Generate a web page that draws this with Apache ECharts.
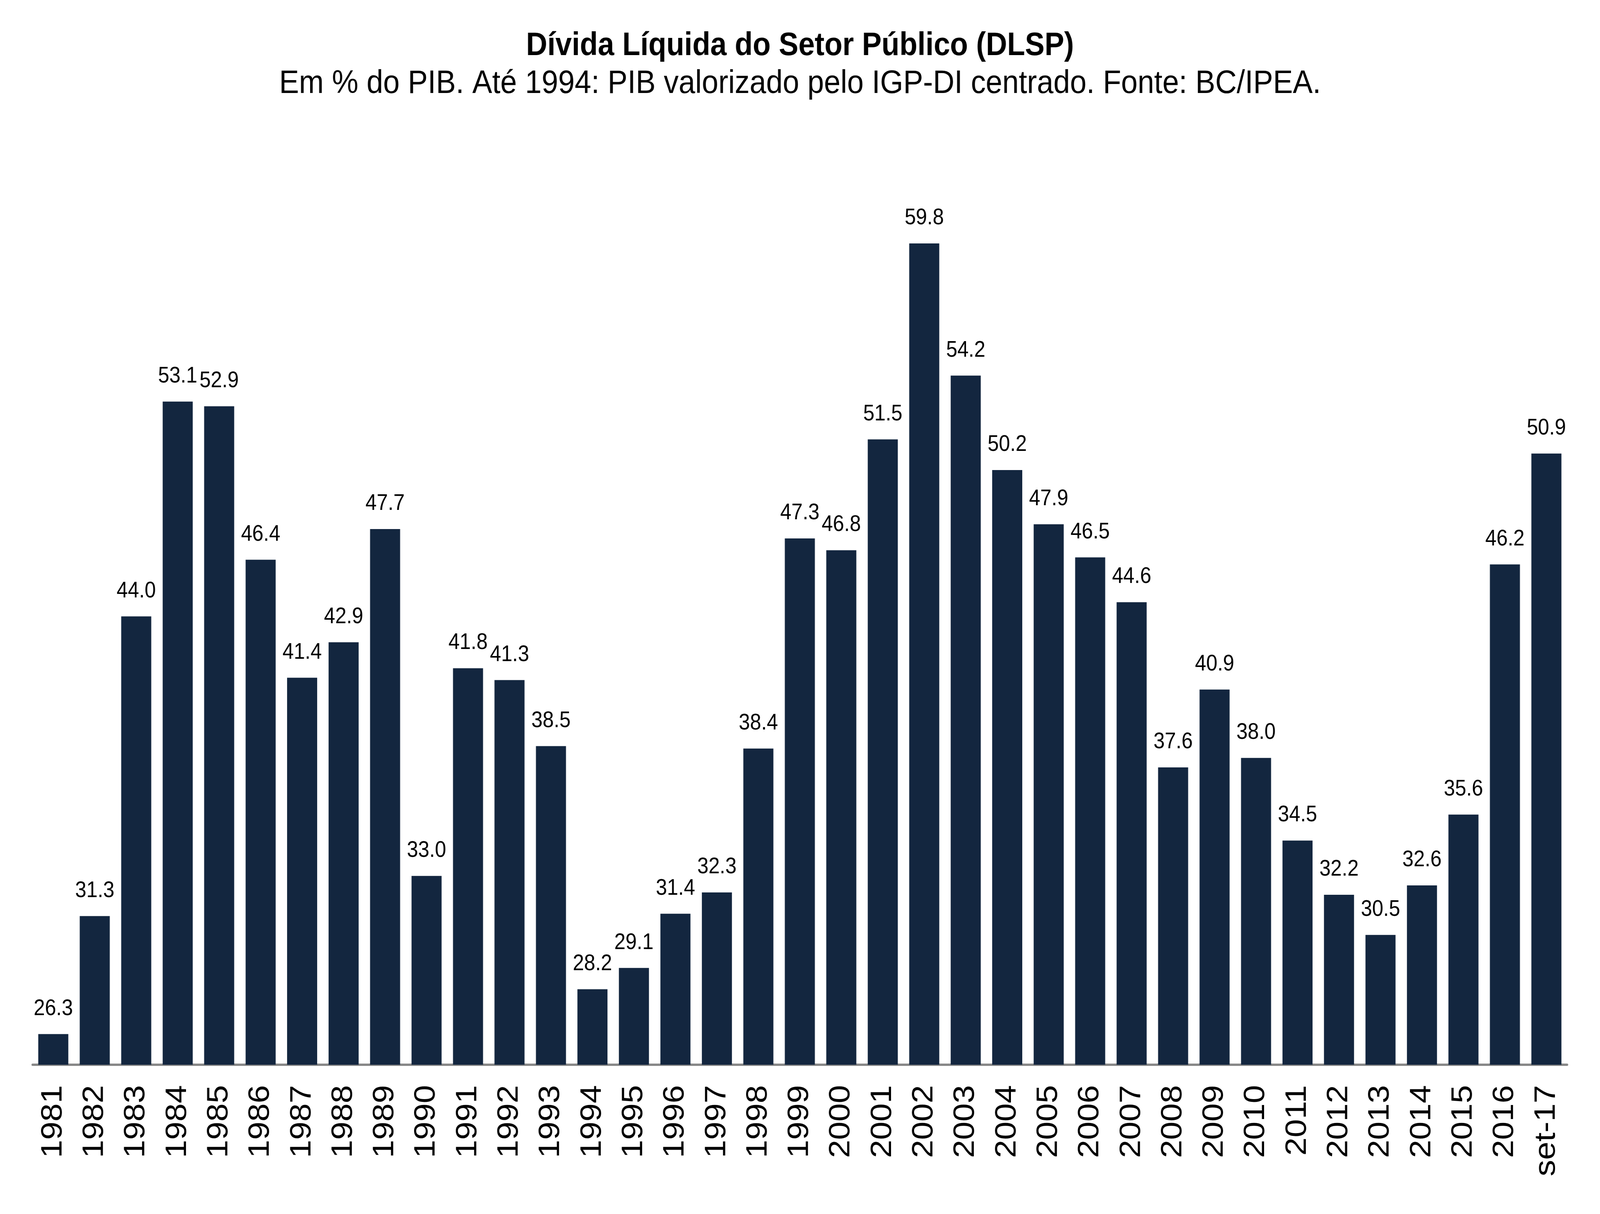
<!DOCTYPE html>
<html>
<head>
<meta charset="UTF-8">
<title>Dívida Líquida do Setor Público (DLSP)</title>
<script src="https://cdn.jsdelivr.net/npm/echarts@6/dist/echarts.min.js"></script>
<style>
  html, body { margin: 0; padding: 0; background: #fff; width: 100%; height: 100%; overflow: hidden; }
  #main { width: 4525px; height: 3107px; transform-origin: 0 0; }
</style>
</head>
<body>
<div id="main"></div>
<script>
// anos (o último é set-17)
var anos = ['1981', '1982', '1983', '1984', '1985', '1986', '1987', '1988', '1989', '1990',
  '1991', '1992', '1993', '1994', '1995', '1996', '1997', '1998', '1999', '2000',
  '2001', '2002', '2003', '2004', '2005', '2006', '2007', '2008', '2009', '2010',
  '2011', '2012', '2013', '2014', '2015', '2016', 'set-17'];

// DLSP em % do PIB
var dlsp = [26.3, 31.3, 44.0, 53.1, 52.9, 46.4, 41.4, 42.9, 47.7, 33.0,
  41.8, 41.3, 38.5, 28.2, 29.1, 31.4, 32.3, 38.4, 47.3, 46.8,
  51.5, 59.8, 54.2, 50.2, 47.9, 46.5, 44.6, 37.6, 40.9, 38.0,
  34.5, 32.2, 30.5, 32.6, 35.6, 46.2, 50.9];

var fonte = '"Liberation Sans", Arial, sans-serif';

// o gráfico é desenhado a 4525x3107 e encaixado na janela
var el = document.getElementById('main');
var sx = window.innerWidth / 4525, sy = window.innerHeight / 3107;
el.style.transform = 'scale(' + sx + ',' + sy + ')';

var myChart = echarts.init(el);
var option = {
  backgroundColor: '#ffffff',
  animation: false,
  title: {
    text: 'Dívida Líquida do Setor Público (DLSP)',
    subtext: 'Em % do PIB. Até 1994: PIB valorizado pelo IGP-DI centrado. Fonte: BC/IPEA.',
    left: 'center',
    top: 72,
    itemGap: 13,
    textStyle: { fontFamily: fonte, fontSize: 83, fontWeight: 'bold', color: '#000', lineHeight: 83 },
    subtextStyle: { fontFamily: fonte, fontSize: 84, color: '#000', lineHeight: 84 }
  },
  grid: { left: 92, right: 93, top: 611, bottom: 382 },
  xAxis: {
    type: 'category',
    data: anos,
    axisLine: { show: true, lineStyle: { color: '#888888', width: 6 } },
    axisTick: { show: false },
    axisLabel: {
      rotate: 90,
      margin: 52,
      interval: 0,
      fontFamily: fonte,
      fontSize: 84,
      color: '#000'
    }
  },
  yAxis: {
    type: 'value',
    min: 25,
    max: 60,
    show: false,
    splitLine: { show: false }
  },
  series: [{
    type: 'bar',
    data: dlsp,
    barWidth: 85,
    itemStyle: { color: '#13263f' },
    label: {
      show: true,
      position: 'top',
      distance: 36,
      fontFamily: fonte,
      fontSize: 57,
      color: '#000',
      formatter: function (p) { return p.value.toFixed(1); }
    }
  }]
};
myChart.setOption(option);
</script>
</body>
</html>
